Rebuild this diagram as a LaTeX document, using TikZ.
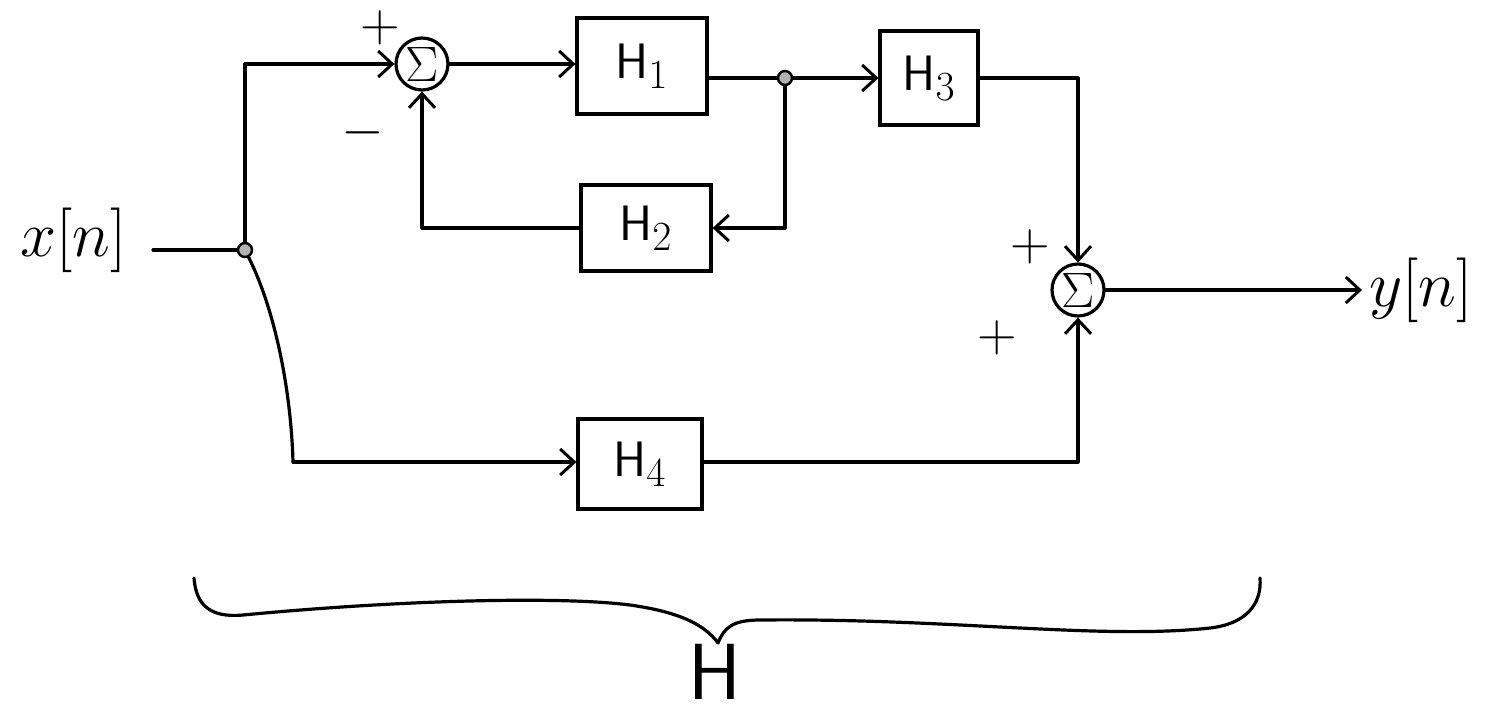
\documentclass[tikz,border=0pt]{standalone}
\usepackage{graphicx}
\usetikzlibrary{arrows.meta}
\begin{document}
\begin{tikzpicture}[x=0.5pt,y=-0.5pt,
  wire/.style={line width=1.6pt, line join=round, line cap=round},
  arr/.style={wire, -{Straight Barb[length=7pt,width=13pt,line width=1.5pt]}},
  blockbox/.style={draw, line width=1.6pt, inner sep=0pt, font=\fontsize{24.88}{30}\selectfont},
  sumnode/.style={draw, circle, line width=1.6pt, minimum size=26pt, inner sep=0pt, font=\fontsize{24.88}{26}\selectfont},
  jdot/.style={circle, draw, fill=gray!60, line width=1.2pt, minimum size=7pt, inner sep=0pt},
  sign/.style={font=\fontsize{24.88}{28}\selectfont},
  lbl/.style={font=\fontsize{24.88}{30}\selectfont}]
\useasboundingbox (0,0) rectangle (1491,723);

% nodes
\node[sumnode] (sA) at (422,64) {$\Sigma$};
\node[blockbox, minimum width=65pt, minimum height=48pt] (H1) at (642,66) {$\mathsf{H}_1$};
\node[blockbox, minimum width=65pt, minimum height=43pt] (H2) at (646,228) {$\mathsf{H}_2$};
\node[blockbox, minimum width=49pt, minimum height=47pt] (H3) at (929,78) {$\mathsf{H}_3$};
\node[blockbox, minimum width=62pt, minimum height=45pt] (H4) at (640,464) {$\mathsf{H}_4$};
\node[sumnode] (sB) at (1078,290) {$\Sigma$};
\node[jdot] (j1) at (245,250) {};
\node[jdot] (j2) at (785,78) {};
\node[lbl, anchor=east] (xn) at (134,240) {\scalebox{1.3}{$x[n]$}};
\node[lbl, anchor=west] (yn) at (1362,290) {\scalebox{1.3}{$y[n]$}};
\coordinate (c1) at (293,462);
\coordinate (xs) at (153,250);

% signs
\node[sign] (pA) at (380,28) {\scalebox{1.1}{$+$}};
\node[sign] (mA) at (363,133) {\scalebox{1.1}{$-$}};
\node[sign] (pB1) at (1030,247) {\scalebox{1.1}{$+$}};
\node[sign] (pB2) at (997,338) {\scalebox{1.1}{$+$}};

% connectors
\draw[wire] (xs) -- (j1);
\draw[arr] (j1) |- (sA.west);
\draw[arr] (sA.east) -- (H1.west |- sA.east);
\draw[wire] (H1.east |- j2) -- (j2);
\draw[arr] (j2) -- (H3.west);
\draw[arr] (j2) |- (H2.east);
\draw[arr] (H2.west) -| (sA.south);
\draw[arr] (H3.east) -| (sB.north);
\draw[wire] (j1) .. controls (275,310) and (291,390) .. (c1);
\draw[arr] (c1) -- (H4.west |- c1);
\draw[arr] (H4.east |- c1) -| (sB.south);
\draw[arr] (sB.east) -- (yn.west |- sB.east);

% brace
\draw[wire] (194,578) .. controls (196,605) and (210,618) .. (243,615)
  .. controls (400,600) and (560,596) .. (630,605)
  .. controls (680,612) and (705,625) .. (718,643)
  .. controls (724,628) and (732,620) .. (760,620)
  .. controls (950,618) and (1100,640) .. (1210,628)
  .. controls (1245,624) and (1262,605) .. (1260,578);
\node[font=\fontsize{24.88}{30}\selectfont] (Hbig) at (715,672) {\scalebox{1.6}{$\mathsf{H}$}};
\end{tikzpicture}
\end{document}
